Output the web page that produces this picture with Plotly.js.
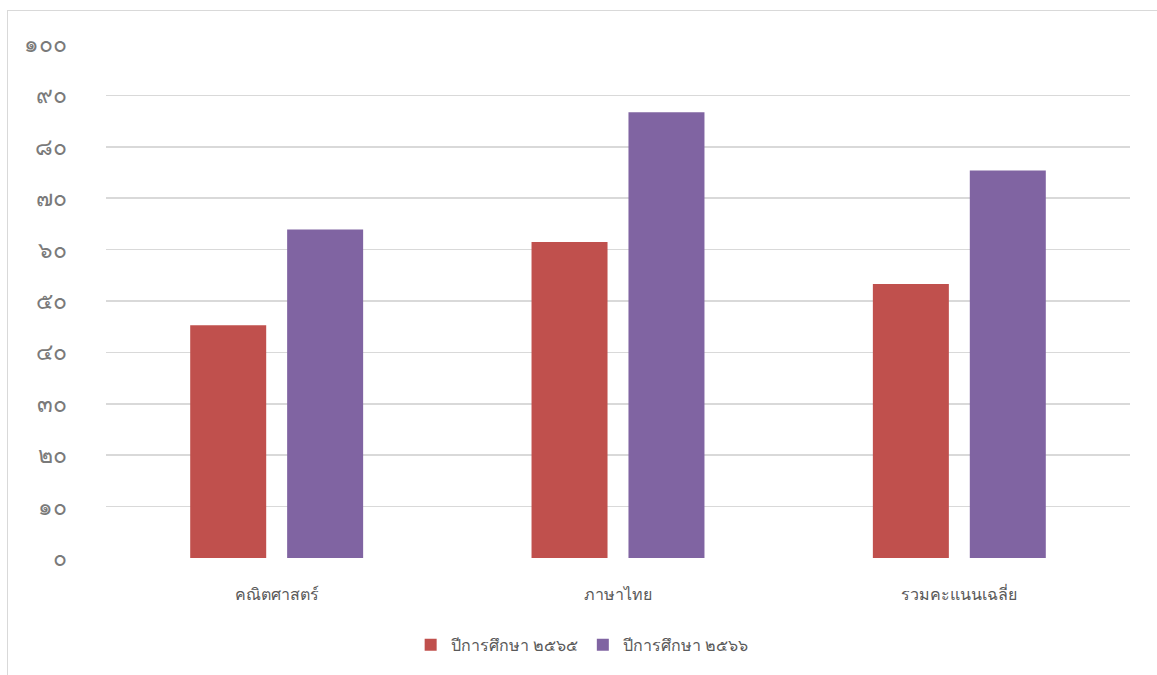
<!DOCTYPE html>
<html>
<head>
<meta charset="utf-8">
<script src="https://cdn.plot.ly/plotly-3.0.1.min.js"></script>
<style>
html,body{margin:0;padding:0;background:#fff;overflow:hidden;}
#frame{position:absolute;left:7px;top:10px;width:1170px;height:700px;border:1.5px solid #d9d9d9;box-sizing:border-box;}
#chart{position:absolute;left:0;top:0;width:1157px;height:675px;}
</style>
</head>
<body>
<div id="frame"></div>
<div id="chart"></div>
<script>
const categories = ["คณิตศาสตร์", "ภาษาไทย", "รวมคะแนนเฉลี่ย"];
const series2565 = [45.3, 61.5, 53.3];
const series2566 = [63.9, 86.7, 75.4];
const seriesNames = ["ปีการศึกษา ๒๕๖๕", "ปีการศึกษา ๒๕๖๖"];
const tickValues = [0, 10, 20, 30, 40, 50, 60, 70, 80, 90, 100];
const tickLabels = ["๐", "๑๐", "๒๐", "๓๐", "๔๐", "๕๐", "๖๐", "๗๐", "๘๐", "๙๐", "๑๐๐"];

const fontFam = "Noto Sans, Lato, sans-serif";
const data = [
  {type: "bar", x: categories, y: series2565, name: seriesNames[0], marker: {color: "#C0504D"}, hoverinfo: "y"},
  {type: "bar", x: categories, y: series2566, name: seriesNames[1], marker: {color: "#8064A2"}, hoverinfo: "y"}
];
const layout = {
  width: 1157, height: 675,
  margin: {l: 106, r: 27, t: 44, b: 117},
  paper_bgcolor: "rgba(0,0,0,0)",
  plot_bgcolor: "rgba(0,0,0,0)",
  barmode: "group",
  bargap: 0.432,
  bargroupgap: 0.216,
  font: {family: fontFam, color: "#595959"},
  xaxis: {
    showgrid: false, zeroline: false, showline: false,
    tickfont: {size: 16, color: "#595959"},
    ticks: "outside", ticklen: 22, tickcolor: "rgba(0,0,0,0)"
  },
  yaxis: {
    range: [0, 100], tickvals: tickValues, ticktext: tickLabels,
    showgrid: true, gridcolor: "#d9d9d9", gridwidth: 1.5,
    zeroline: false, showline: false,
    tickfont: {size: 23, color: "#7a7a7a", weight: 300},
    ticks: "outside", ticklen: 33, tickcolor: "rgba(0,0,0,0)"
  },
  showlegend: true,
  legend: {
    orientation: "h", x: 0.465, xanchor: "center", y: -0.169, yanchor: "middle",
    font: {size: 16, color: "#595959"}, itemwidth: 30, traceorder: "normal"
  }
};
Plotly.newPlot("chart", data, layout, {displayModeBar: false, staticPlot: true});
</script>
</body>
</html>
